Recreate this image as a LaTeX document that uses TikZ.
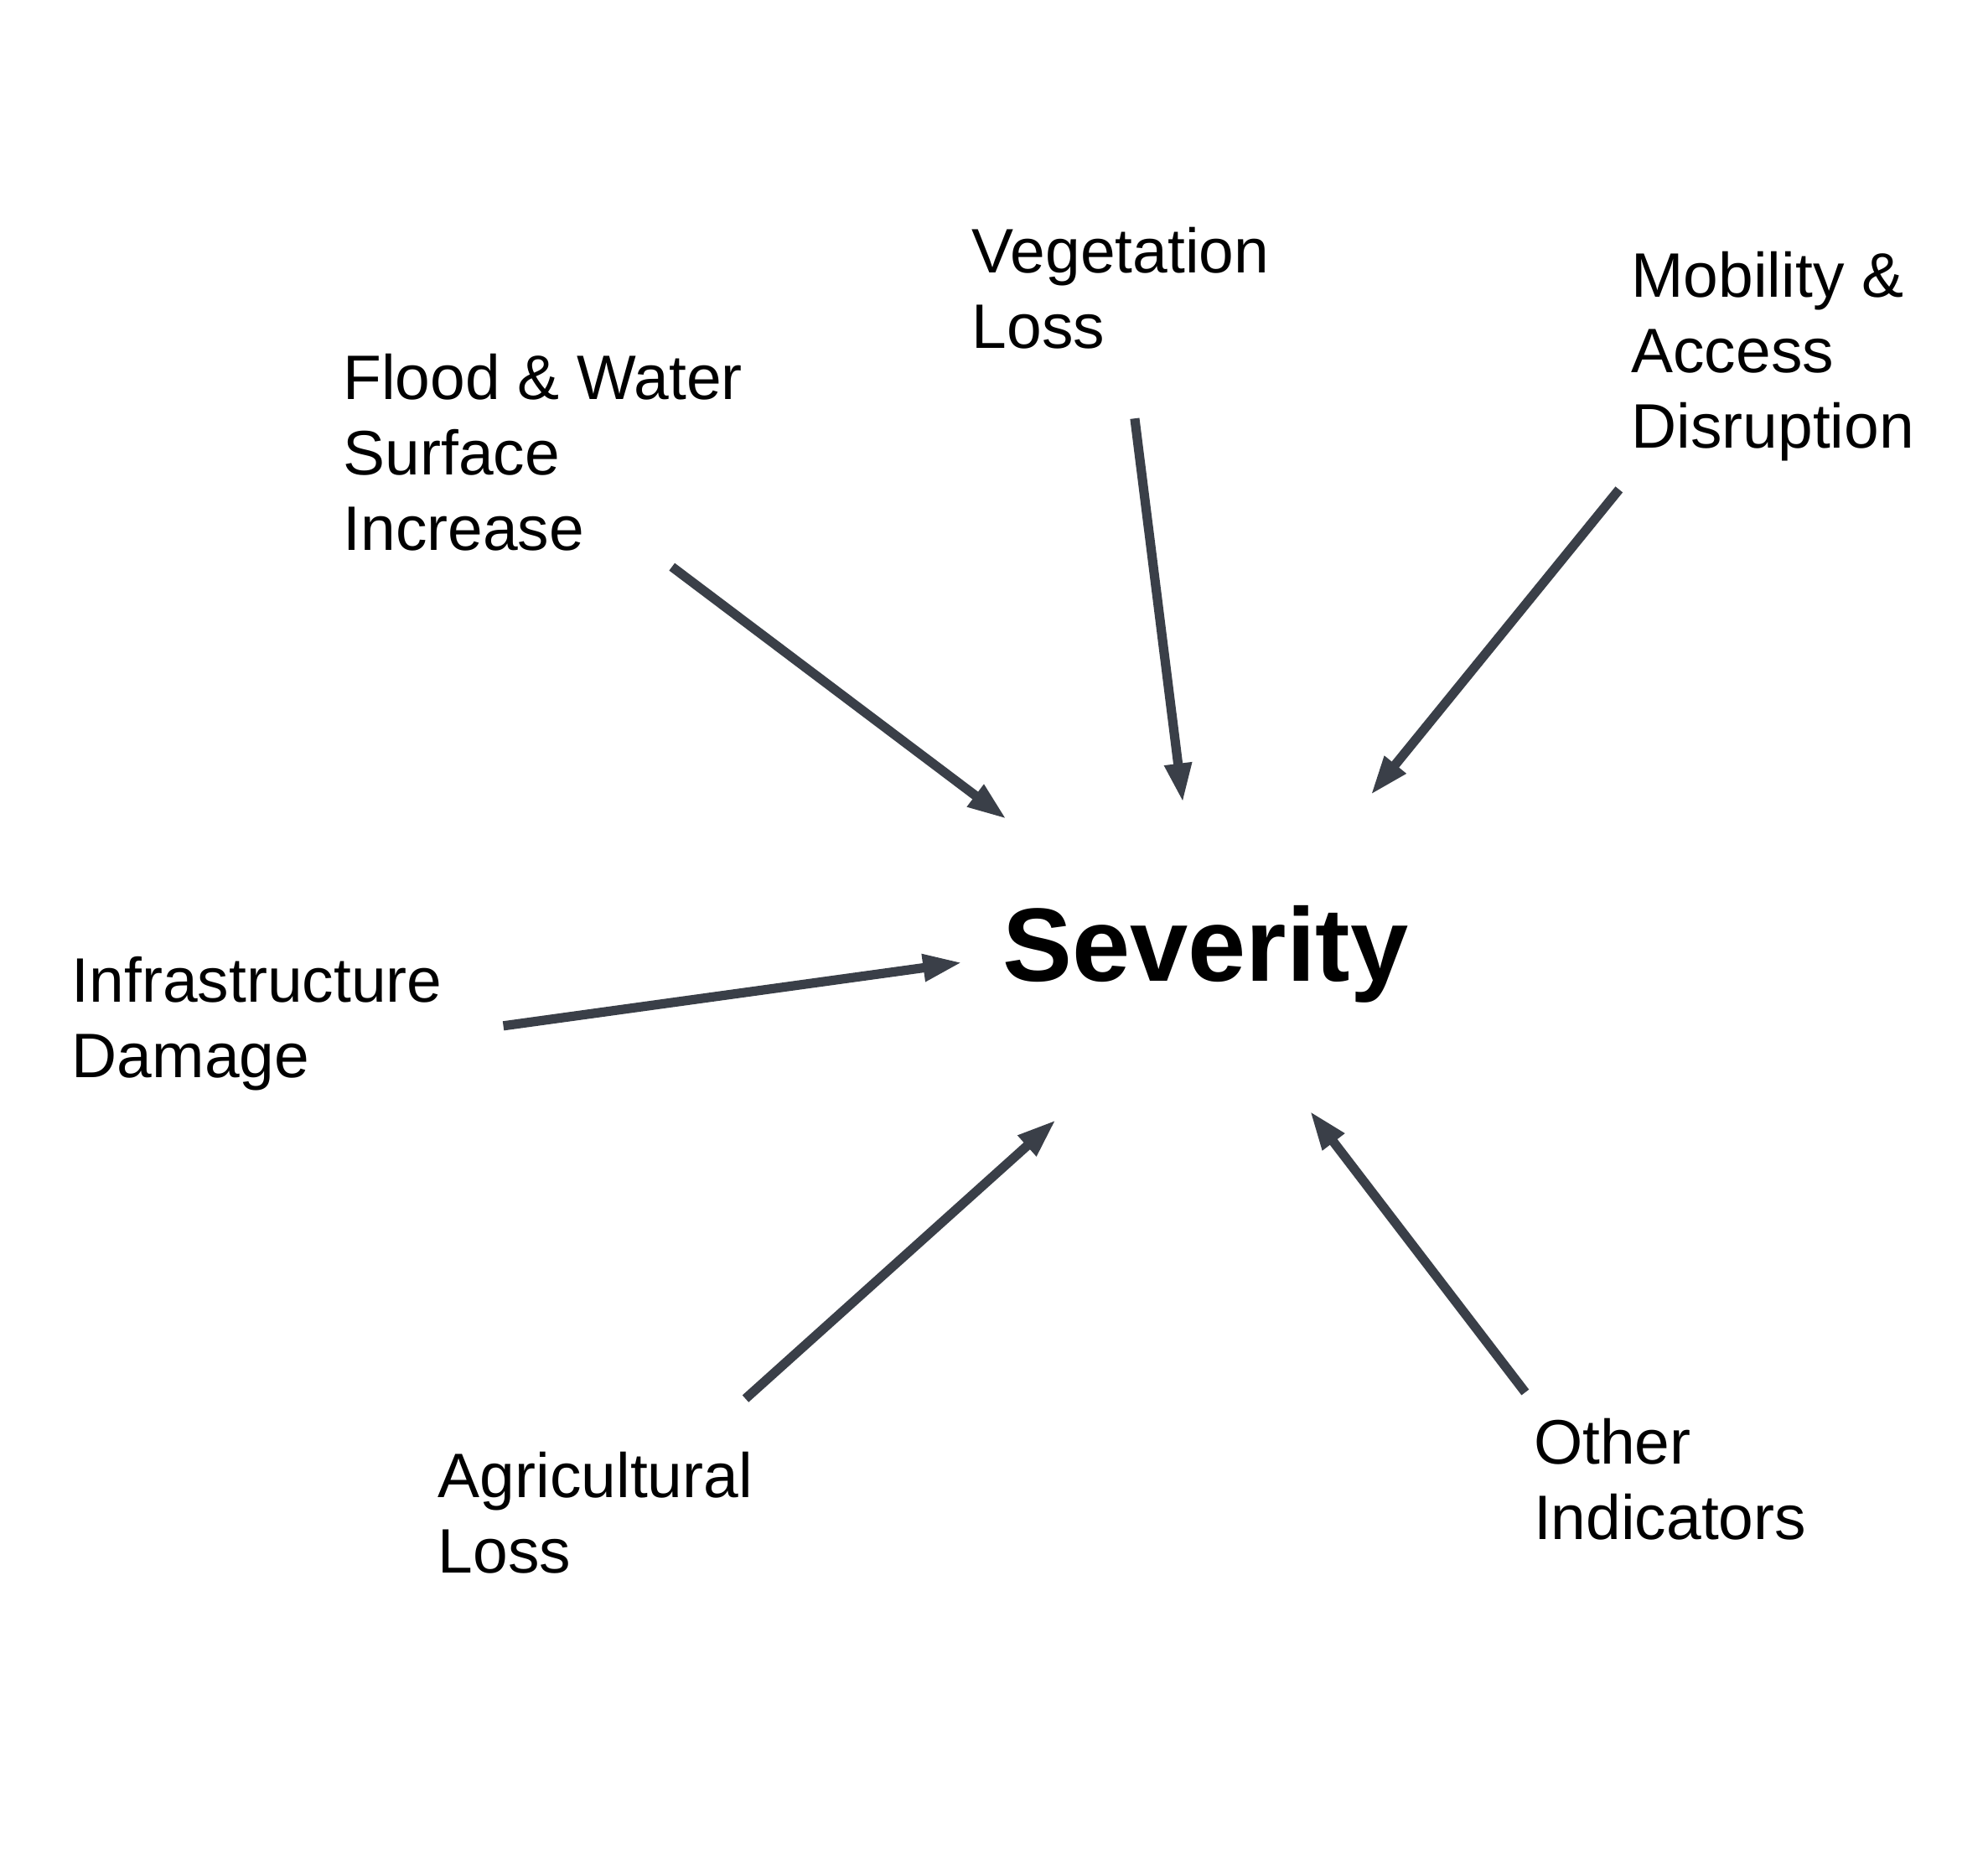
\documentclass[tikz,border=0pt]{standalone}
\usepackage{fontspec}
\setmainfont{Liberation Sans}
\usepackage{xcolor}
\usetikzlibrary{arrows.meta,positioning}
\definecolor{arrowgray}{RGB}{58,63,72}

\begin{document}
\begin{tikzpicture}[
    lbl/.style={anchor=north west, inner sep=0pt, align=left, font=\fontsize{14.1}{16.9}\selectfont},
    arr/.style={-{Triangle[length=3.1mm,width=2mm]}, line width=2.1pt, draw=arrowgray},
  ]
\useasboundingbox (0,0) rectangle (15.68,-14.79);

% centre
\node[anchor=base west, inner sep=0pt, font=\fontsize{23.4}{28}\selectfont\bfseries] (sev) at (7.90,-7.74) {Severity};

% indicators
\node[lbl] (veg) at (7.66,-1.73) {\strut Vegetation\\Loss};
\node[lbl] (flood) at (2.70,-2.73) {\strut Flood \& Water\\Surface\\Increase};
\node[lbl] (mob) at (12.86,-1.92) {\strut Mobility \&\\Access\\Disruption};
\node[lbl] (infra) at (0.56,-7.48) {\strut Infrastructure\\Damage};
\node[lbl] (agri) at (3.45,-11.39) {\strut Agricultural\\Loss};
\node[lbl] (other) at (12.09,-11.12) {\strut Other\\Indicators};

% arrow ends
\coordinate (flood-t) at (5.30,-4.47);  \coordinate (flood-h) at (7.94,-6.46);
\coordinate (veg-t) at (8.95,-3.30);    \coordinate (veg-h) at (9.33,-6.33);
\coordinate (mob-t) at (12.77,-3.86);   \coordinate (mob-h) at (10.81,-6.27);
\coordinate (infra-t) at (3.97,-8.09);  \coordinate (infra-h) at (7.59,-7.59);
\coordinate (agri-t) at (5.88,-11.03);  \coordinate (agri-h) at (8.33,-8.83);
\coordinate (other-t) at (12.03,-10.98); \coordinate (other-h) at (10.33,-8.76);

\draw[arr] (flood-t) -- (flood-h);
\draw[arr] (veg-t) -- (veg-h);
\draw[arr] (mob-t) -- (mob-h);
\draw[arr] (infra-t) -- (infra-h);
\draw[arr] (agri-t) -- (agri-h);
\draw[arr] (other-t) -- (other-h);
\end{tikzpicture}
\end{document}
